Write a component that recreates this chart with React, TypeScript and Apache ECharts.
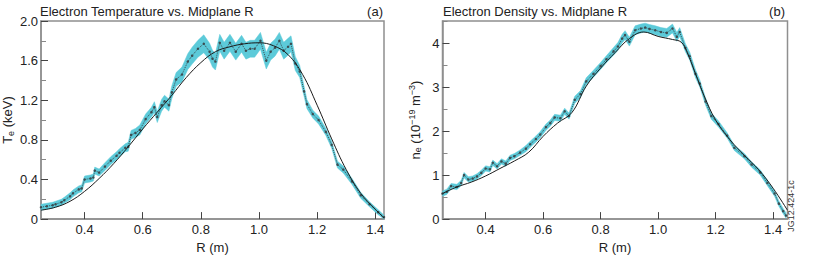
import React, { useEffect, useRef } from "react";
import * as echarts from "echarts";

// ---- Electron temperature (panel a) ----
const teR = [0.25, 0.27, 0.29, 0.30, 0.32, 0.33, 0.35, 0.36, 0.38, 0.39, 0.40, 0.42, 0.43, 0.435, 0.45, 0.47, 0.49, 0.51, 0.52, 0.54, 0.55, 0.56, 0.575, 0.59, 0.61, 0.63, 0.64, 0.65, 0.665, 0.675, 0.69, 0.70, 0.715, 0.735, 0.755, 0.77, 0.79, 0.81, 0.83, 0.84, 0.85, 0.865, 0.88, 0.90, 0.92, 0.94, 0.955, 0.97, 0.985, 1.005, 1.025, 1.04, 1.055, 1.07, 1.085, 1.10, 1.11, 1.125, 1.14, 1.155, 1.165, 1.185, 1.205, 1.23, 1.25, 1.27, 1.29, 1.32, 1.35, 1.38, 1.41, 1.43];
const teVal = [0.12, 0.13, 0.14, 0.15, 0.17, 0.19, 0.23, 0.26, 0.30, 0.31, 0.40, 0.41, 0.42, 0.49, 0.47, 0.53, 0.59, 0.64, 0.67, 0.72, 0.73, 0.85, 0.87, 0.90, 1.01, 1.08, 1.13, 1.03, 1.15, 1.19, 1.15, 1.28, 1.41, 1.46, 1.59, 1.65, 1.72, 1.77, 1.69, 1.62, 1.59, 1.78, 1.70, 1.78, 1.69, 1.77, 1.70, 1.72, 1.72, 1.80, 1.60, 1.69, 1.73, 1.80, 1.70, 1.74, 1.77, 1.57, 1.49, 1.29, 1.16, 1.06, 1.00, 0.88, 0.75, 0.55, 0.50, 0.38, 0.24, 0.15, 0.07, 0.02];
const teErr = [0.03, 0.03, 0.03, 0.03, 0.03, 0.03, 0.035, 0.035, 0.035, 0.035, 0.035, 0.035, 0.035, 0.035, 0.035, 0.04, 0.04, 0.04, 0.04, 0.04, 0.045, 0.045, 0.045, 0.05, 0.05, 0.05, 0.055, 0.055, 0.06, 0.06, 0.06, 0.065, 0.07, 0.075, 0.08, 0.085, 0.085, 0.09, 0.085, 0.085, 0.085, 0.085, 0.085, 0.085, 0.085, 0.085, 0.085, 0.085, 0.085, 0.085, 0.085, 0.085, 0.085, 0.085, 0.085, 0.085, 0.08, 0.07, 0.06, 0.05, 0.045, 0.04, 0.04, 0.035, 0.035, 0.035, 0.035, 0.03, 0.03, 0.025, 0.025, 0.02];
const teFitR = [0.25, 0.30, 0.35, 0.40, 0.45, 0.50, 0.55, 0.60, 0.65, 0.70, 0.75, 0.80, 0.85, 0.90, 0.95, 1.00, 1.05, 1.10, 1.15, 1.20, 1.25, 1.30, 1.35, 1.40, 1.43];
const teFit = [0.09, 0.12, 0.18, 0.28, 0.41, 0.56, 0.73, 0.91, 1.08, 1.25, 1.43, 1.58, 1.69, 1.74, 1.77, 1.78, 1.75, 1.66, 1.46, 1.15, 0.81, 0.50, 0.26, 0.10, 0.01];

// ---- Electron density (panel b) ----
const neR = [0.25, 0.265, 0.28, 0.30, 0.315, 0.325, 0.34, 0.355, 0.37, 0.385, 0.40, 0.415, 0.425, 0.44, 0.455, 0.47, 0.485, 0.50, 0.52, 0.54, 0.555, 0.575, 0.59, 0.61, 0.625, 0.64, 0.66, 0.675, 0.69, 0.71, 0.73, 0.75, 0.775, 0.80, 0.82, 0.845, 0.86, 0.875, 0.885, 0.90, 0.92, 0.94, 0.955, 0.97, 0.99, 1.01, 1.03, 1.05, 1.065, 1.075, 1.095, 1.11, 1.13, 1.145, 1.165, 1.185, 1.21, 1.24, 1.265, 1.30, 1.325, 1.355, 1.38, 1.405, 1.42, 1.435, 1.445];
const neVal = [0.58, 0.62, 0.75, 0.73, 0.82, 1.00, 0.90, 0.92, 0.97, 1.05, 1.15, 1.13, 1.28, 1.20, 1.31, 1.26, 1.39, 1.43, 1.51, 1.60, 1.70, 1.82, 1.92, 2.09, 2.18, 2.31, 2.29, 2.45, 2.34, 2.71, 2.84, 3.13, 3.30, 3.48, 3.63, 3.81, 3.92, 4.10, 4.18, 4.03, 4.29, 4.33, 4.35, 4.32, 4.29, 4.25, 4.23, 4.33, 4.14, 4.25, 3.89, 3.70, 3.30, 3.08, 2.67, 2.34, 2.16, 1.90, 1.62, 1.43, 1.24, 1.06, 0.82, 0.58, 0.35, 0.18, 0.08];
const neErr = [0.06, 0.06, 0.06, 0.06, 0.06, 0.06, 0.06, 0.06, 0.06, 0.06, 0.06, 0.06, 0.06, 0.06, 0.06, 0.06, 0.06, 0.06, 0.06, 0.07, 0.07, 0.07, 0.07, 0.07, 0.07, 0.07, 0.07, 0.07, 0.07, 0.08, 0.08, 0.08, 0.08, 0.08, 0.08, 0.09, 0.09, 0.1, 0.1, 0.1, 0.1, 0.1, 0.1, 0.1, 0.1, 0.1, 0.1, 0.1, 0.1, 0.1, 0.09, 0.09, 0.09, 0.08, 0.08, 0.07, 0.07, 0.06, 0.06, 0.06, 0.06, 0.06, 0.06, 0.06, 0.06, 0.06, 0.06];
const neFitR = [0.25, 0.30, 0.35, 0.40, 0.45, 0.50, 0.55, 0.60, 0.65, 0.70, 0.75, 0.80, 0.85, 0.90, 0.95, 1.00, 1.05, 1.08, 1.10, 1.13, 1.16, 1.20, 1.25, 1.30, 1.35, 1.40, 1.45];
const neFit = [0.58, 0.73, 0.84, 0.98, 1.15, 1.32, 1.52, 1.88, 2.18, 2.42, 3.02, 3.43, 3.78, 4.10, 4.25, 4.15, 4.08, 4.02, 3.80, 3.30, 2.80, 2.25, 1.80, 1.45, 1.12, 0.70, 0.20];

// ---- axes ----
const xTicks = [0.4, 0.6, 0.8, 1.0, 1.2, 1.4];
const teYTicks = [0, 0.4, 0.8, 1.2, 1.6, 2.0];
const teYMinor = [0.2, 0.6, 1.0, 1.4, 1.8];
const neYTicks = [0, 1, 2, 3, 4];
const neYMinor = [0.5, 1.5, 2.5, 3.5, 4.5];

const FONT = "'Liberation Sans', Arial, Helvetica, sans-serif";
const CYAN = "#5ccad9";
const FRAME = "#8f8f8f";

function App() {
  const ref = useRef<HTMLDivElement>(null);
  useEffect(() => {
    if (!ref.current) return;
    const chart = echarts.init(ref.current, null, { renderer: "svg" });

    const pairs = (xs: number[], ys: number[]) => xs.map((x, i) => [x, ys[i]]);

    // error band drawn as one polygon through the axis scales (api.coord)
    const bandSeries = (xi: number, yi: number, xs: number[], v: number[], e: number[]) => ({
      type: "custom", xAxisIndex: xi, yAxisIndex: yi, z: 1, silent: true,
      data: xs.map((x, i) => [x, v[i] - e[i], v[i] + e[i]]),
      encode: { x: 0, y: [1, 2] },
      renderItem: (params: any, api: any) => {
        if (params.dataIndex !== 0) return null;
        const upper = xs.map((x, i) => api.coord([x, v[i] + e[i]]));
        const lower = xs.map((x, i) => api.coord([x, v[i] - e[i]])).reverse();
        return {
          type: "polygon",
          shape: { points: upper.concat(lower) },
          style: { fill: CYAN, stroke: CYAN, lineWidth: 0.5 },
        };
      },
    });

    const measSeries = (xi: number, yi: number, xs: number[], v: number[]) => ({
      type: "line", xAxisIndex: xi, yAxisIndex: yi, data: pairs(xs, v),
      symbol: "circle", symbolSize: 2.5,
      itemStyle: { color: "#3c4d52" },
      lineStyle: { color: "#3c4d52", width: 1, type: "dotted" }, z: 3,
    });

    const fitSeries = (xi: number, yi: number, xs: number[], v: number[]) => ({
      type: "line", xAxisIndex: xi, yAxisIndex: yi, data: pairs(xs, v),
      symbol: "none", smooth: 0.4,
      lineStyle: { color: "#1a1a1a", width: 1 }, z: 4,
    });

    const xAxis = (gi: number, max: number) => ({
      type: "value", gridIndex: gi, min: 0.25, max,
      name: "R (m)", nameLocation: "middle", nameGap: 21,
      nameTextStyle: { fontFamily: FONT, fontSize: 13, color: "#222" },
      axisLine: { show: true, lineStyle: { color: FRAME, width: 1.5 } },
      axisTick: { show: true, inside: true, length: 7, customValues: xTicks, lineStyle: { color: "#444" } },
      axisLabel: { customValues: xTicks, margin: 4, fontFamily: FONT, fontSize: 13, color: "#222", formatter: (v: number) => v.toFixed(1) },
      splitLine: { show: false },
    });

    const yMain = (gi: number, max: number, ticks: number[], fmt: (v: number) => string, name: string, gap: number) => ({
      type: "value", gridIndex: gi, min: 0, max,
      name, nameLocation: "middle", nameGap: gap, nameRotate: 90,
      nameTextStyle: {
        fontFamily: FONT, fontSize: 13, color: "#222",
        rich: {
          n: { fontFamily: FONT, fontSize: 13, color: "#222" },
          sub: { fontFamily: FONT, fontSize: 9, color: "#222", verticalAlign: "bottom", padding: [6, 0, 0, 0] },
          sup: { fontFamily: FONT, fontSize: 9, color: "#222", verticalAlign: "top", padding: [0, 0, 6, 0] },
        },
      },
      axisLine: { show: true, lineStyle: { color: FRAME, width: 1.5 } },
      axisTick: { show: true, inside: true, length: 7, customValues: ticks, lineStyle: { color: "#444" } },
      axisLabel: { customValues: ticks, margin: 3, fontFamily: FONT, fontSize: 13, color: "#222", formatter: fmt },
      splitLine: { show: false },
    });

    const yMinor = (gi: number, max: number, ticks: number[]) => ({
      type: "value", gridIndex: gi, min: 0, max, position: "left",
      axisLine: { show: false },
      axisTick: { show: true, inside: true, length: 5, customValues: ticks, lineStyle: { color: "#888" } },
      axisLabel: { show: false },
      splitLine: { show: false },
    });

    const txt = (x: number, y: number, text: string, align: string, size = 13) => ({
      type: "text", x, y,
      style: { text, fontFamily: FONT, fontSize: size, fill: "#222", align, verticalAlign: "middle" },
    });

    chart.setOption({
      animation: false,
      backgroundColor: "#fff",
      grid: [
        { left: 39.5, top: 21, width: 344.5, height: 203.7, show: true, borderColor: FRAME, borderWidth: 1.5, backgroundColor: "transparent" },
        { left: 442.5, top: 21, width: 345, height: 203.7, show: true, borderColor: FRAME, borderWidth: 1.5, backgroundColor: "transparent" },
      ],
      xAxis: [xAxis(0, 1.43), xAxis(1, 1.45)],
      yAxis: [
        yMain(0, 2.0, teYTicks, (v: number) => (v === 0 ? "0" : v.toFixed(1)), "{n|T}{sub|e}{n| (keV)}", 26),
        yMinor(0, 2.0, teYMinor),
        yMain(1, 4.5, neYTicks, (v: number) => String(v), "{n|n}{sub|e}{n| (10}{sup|−19}{n| m}{sup|−3}{n|)}", 20),
        yMinor(1, 4.5, neYMinor),
      ],
      series: [
        bandSeries(0, 0, teR, teVal, teErr),
        measSeries(0, 0, teR, teVal),
        fitSeries(0, 0, teFitR, teFit),
        bandSeries(1, 2, neR, neVal, neErr),
        measSeries(1, 2, neR, neVal),
        fitSeries(1, 2, neFitR, neFit),
      ],
      graphic: [
        txt(40, 11, "Electron Temperature vs. Midplane R", "left"),
        txt(383, 11, "(a)", "right"),
        txt(443, 11, "Electron Density vs. Midplane R", "left"),
        txt(785, 11, "(b)", "right"),
        {
          type: "text", x: 791, y: 206, rotation: Math.PI / 2,
          style: { text: "JG12.424-1c", fontFamily: FONT, fontSize: 9, fill: "#333", align: "center", verticalAlign: "middle" },
        },
      ],
    });
    return () => chart.dispose();
  }, []);
  return <div ref={ref} style={{ position: "fixed", left: 0, top: 0, width: 830, height: 259 }} />;
}

export default App;
